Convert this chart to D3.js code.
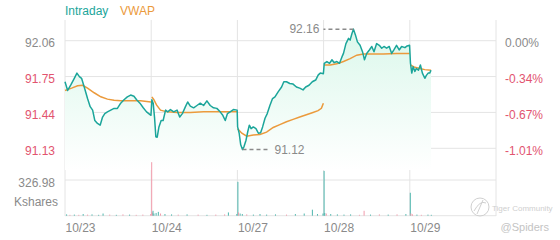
<!DOCTYPE html>
<html>
<head>
<meta charset="utf-8">
<script src="https://cdn.jsdelivr.net/npm/d3@7"></script>
<style>
  body { margin: 0; background: #fff; }
  svg { font-family: "Liberation Sans", Arial, sans-serif; display: block; }
</style>
</head>
<body>
<section></section>
<script>
"use strict";

// days shown on the x axis
const days = ["10/23", "10/24", "10/27", "10/28", "10/29"];
const prevClose = 92.06;
const priceTicks = [92.06, 91.75, 91.44, 91.13];
const volTicks = [326.98];

// intraday price per day: [minute after open, price]
const px1023 = [[0,91.705],[12,91.63],[27,91.68],[42,91.735],[54,91.78],[65,91.75],[75,91.735],[87,91.66],[102,91.56],[114,91.49],[125,91.46],[135,91.37],[147,91.345],[159,91.33],[170,91.40],[180,91.43],[192,91.445],[207,91.46],[222,91.475],[237,91.475],[252,91.52],[267,91.55],[282,91.575],[297,91.59],[312,91.58],[324,91.55],[339,91.52],[354,91.48],[369,91.445],[389,91.415]];
const px1024 = [[3,91.55],[9,91.52],[15,91.40],[21,91.23],[27,91.225],[35,91.315],[45,91.37],[54,91.37],[65,91.46],[75,91.445],[87,91.465],[102,91.445],[117,91.46],[129,91.40],[141,91.43],[155,91.49],[165,91.53],[177,91.495],[192,91.48],[207,91.50],[222,91.52],[237,91.50],[252,91.54],[267,91.50],[282,91.48],[297,91.475],[312,91.445],[324,91.415],[335,91.37],[345,91.43],[357,91.445],[372,91.465],[389,91.46]];
const px1027 = [[1,91.315],[8,91.26],[15,91.16],[23,91.12],[30,91.145],[39,91.20],[47,91.275],[54,91.33],[62,91.30],[72,91.315],[84,91.30],[95,91.26],[105,91.265],[114,91.315],[125,91.39],[135,91.43],[147,91.50],[159,91.56],[170,91.575],[185,91.62],[200,91.66],[210,91.705],[222,91.705],[237,91.69],[252,91.685],[267,91.66],[282,91.65],[297,91.635],[309,91.66],[324,91.675],[339,91.705],[354,91.72],[366,91.765],[375,91.78],[389,91.775]];
const px1028 = [[3,91.865],[15,91.88],[27,91.865],[38,91.895],[48,91.87],[60,91.88],[72,91.865],[83,91.92],[90,91.95],[101,92.035],[113,92.08],[120,92.065],[128,92.12],[135,92.16],[144,92.11],[153,92.05],[165,92.02],[176,91.965],[185,91.895],[195,91.95],[207,91.98],[218,92.01],[228,91.965],[240,92.035],[252,92.02],[263,91.995],[273,92.01],[285,91.995],[297,92.01],[308,91.95],[318,91.98],[330,92.02],[342,91.98],[353,92.01],[368,92.00],[378,92.015],[389,92.02]];
const px1029 = [[3,91.865],[9,91.78],[15,91.835],[23,91.795],[30,91.82],[39,91.805],[48,91.85],[57,91.78],[68,91.735],[75,91.76],[83,91.78],[90,91.78],[96,91.805]];

// VWAP per day
const vw1023 = [[0,91.63],[30,91.65],[57,91.67],[80,91.675],[102,91.65],[132,91.61],[162,91.575],[192,91.555],[222,91.545],[252,91.54],[282,91.54],[312,91.54],[342,91.54],[389,91.53]];
const vw1024 = [[3,91.575],[12,91.55],[24,91.505],[42,91.46],[72,91.445],[117,91.44],[177,91.44],[237,91.445],[297,91.445],[389,91.445]];
const vw1027 = [[1,91.30],[20,91.26],[42,91.235],[72,91.245],[102,91.25],[132,91.27],[162,91.31],[192,91.335],[222,91.36],[252,91.38],[282,91.40],[312,91.42],[342,91.44],[365,91.455],[380,91.475],[389,91.52]];
const vw1028 = [[3,91.85],[30,91.85],[60,91.86],[90,91.88],[120,91.905],[150,91.935],[180,91.945],[225,91.945],[270,91.945],[330,91.95],[389,91.95]];
const vw1029 = [[3,91.85],[23,91.83],[45,91.82],[68,91.81],[96,91.805]];

// volume (Kshares): [minute after open, volume, 1 up / -1 down]
const vol1023 = [[5,12,1],[20,8,-1],[40,10,1],[60,8,-1],[80,15,1],[100,10,-1],[120,12,1],[150,8,1],[170,20,1],[200,10,-1],[230,8,1],[260,12,-1],[290,10,1],[320,8,-1],[350,10,-1],[385,15,-1]];
const vol1024 = [[0,490,-1],[3,30,-1],[6,45,1],[10,20,1],[20,25,1],[30,35,1],[40,20,-1],[60,15,1],[90,12,1],[120,10,-1],[160,12,1],[210,10,-1],[250,8,1],[290,10,-1],[330,12,-1],[347,30,1],[385,15,1]];
const vol1027 = [[0,310,1],[3,30,-1],[10,20,1],[20,15,1],[40,12,-1],[70,10,1],[100,15,1],[130,10,1],[170,12,1],[220,10,-1],[260,15,1],[300,20,1],[337,55,1],[360,15,1],[385,20,1]];
const vol1028 = [[0,410,1],[3,25,1],[10,20,-1],[30,15,1],[60,12,1],[90,10,1],[120,12,1],[160,8,-1],[181,45,-1],[210,10,1],[250,12,-1],[290,10,1],[330,12,-1],[370,15,1]];
const vol1029 = [[0,210,1],[3,20,-1],[10,12,-1],[30,10,1],[50,8,-1],[80,10,1],[95,8,1]];

const priceDays = [px1023, px1024, px1027, px1028, px1029];
const vwapDays = [vw1023, vw1024, vw1027, vw1028, vw1029];
const volDays = [vol1023, vol1024, vol1027, vol1028, vol1029];

const w = 560;
const h = 240;
const left = 65;
const right = 496;
const sessionLen = 390;

const teal = "#1ba59a";
const orange = "#eb9a3c";
const red = "#e2546f";
const gray = "#8a8a8a";
const grid = "#e4e4e4";

const svg = d3.select("section").append("svg").attr("width", w).attr("height", h);

// flatten to session minutes
const toSession = (arr, i) => arr.map((d) => ({ t: i * sessionLen + d[0], v: d[1], dir: d[2] }));
const price = priceDays.flatMap(toSession);
const vwap = vwapDays.map(toSession);
const volume = volDays.flatMap(toSession);

const xScale = d3.scaleLinear().domain([0, days.length * sessionLen]).range([left, right]);
const yScale = d3.scaleLinear().domain([91.13, 92.06]).range([148.3, 40.7]);
const vScale = d3.scaleLinear().domain([0, 326.98]).range([215.7, 180]);

// gradient for the area
const defs = svg.append("defs");
const grad = defs.append("linearGradient").attr("id", "fillGrad")
  .attr("gradientUnits", "userSpaceOnUse").attr("x1", 0).attr("x2", 0).attr("y1", 20).attr("y2", 170);
grad.append("stop").attr("offset", "0%").attr("stop-color", "#d9f7ea");
grad.append("stop").attr("offset", "100%").attr("stop-color", "#ffffff");

// grid
const gridG = svg.append("g");
gridG.selectAll("line.v")
  .data(d3.range(days.length + 1))
  .enter().append("line")
  .attr("x1", (d) => xScale(d * sessionLen)).attr("x2", (d) => xScale(d * sessionLen))
  .attr("y1", 20).attr("y2", 216)
  .attr("stroke", grid);
gridG.selectAll("line.h")
  .data(priceTicks.map(yScale).concat(volTicks.map(vScale), [vScale(0)]))
  .enter().append("line")
  .attr("x1", left).attr("x2", right)
  .attr("y1", (d) => d).attr("y2", (d) => d)
  .attr("stroke", grid);

// area + lines
svg.append("path")
  .datum(price)
  .attr("fill", "url(#fillGrad)")
  .attr("d", d3.area().x((d) => xScale(d.t)).y0(170).y1((d) => yScale(d.v)));

svg.selectAll("path.vwap")
  .data(vwap)
  .enter().append("path")
  .attr("fill", "none")
  .attr("stroke", orange)
  .attr("stroke-width", 1.5)
  .attr("d", d3.line().x((d) => xScale(d.t)).y((d) => yScale(d.v)));

svg.append("path")
  .datum(price)
  .attr("fill", "none")
  .attr("stroke", teal)
  .attr("stroke-width", 1.5)
  .attr("stroke-linejoin", "round")
  .attr("d", d3.line().x((d) => xScale(d.t)).y((d) => yScale(d.v)));

// volume bars
svg.append("g").selectAll("line")
  .data(volume)
  .enter().append("line")
  .attr("x1", (d) => xScale(d.t) + 0.5).attr("x2", (d) => xScale(d.t) + 0.5)
  .attr("y1", vScale(0)).attr("y2", (d) => vScale(d.v))
  .attr("stroke", (d) => (d.dir < 0 ? "#f29aab" : "#4db6ad"))
  .attr("stroke-width", 1);

// max / min annotations
const maxP = d3.greatest(price, (d) => d.v);
const minP = d3.least(price, (d) => d.v);
const ann = svg.append("g").attr("font-size", 12).attr("fill", gray);
ann.append("line")
  .attr("x1", xScale(maxP.t)).attr("x2", xScale(maxP.t) - 30)
  .attr("y1", yScale(maxP.v)).attr("y2", yScale(maxP.v))
  .attr("stroke", gray).attr("stroke-width", 1.5).attr("stroke-dasharray", "4,3");
ann.append("text")
  .attr("x", xScale(maxP.t) - 34).attr("y", yScale(maxP.v)).attr("dy", "0.35em")
  .attr("text-anchor", "end").text(maxP.v.toFixed(2));
ann.append("line")
  .attr("x1", xScale(minP.t)).attr("x2", xScale(minP.t) + 28)
  .attr("y1", yScale(minP.v)).attr("y2", yScale(minP.v))
  .attr("stroke", gray).attr("stroke-width", 1.5).attr("stroke-dasharray", "4,3");
ann.append("text")
  .attr("x", xScale(minP.t) + 32).attr("y", yScale(minP.v)).attr("dy", "0.35em")
  .text(minP.v.toFixed(2));

// axes
const styleAxis = (g) => {
  g.select(".domain").remove();
  g.selectAll(".tick line").remove();
  g.selectAll("text").attr("font-size", 12).attr("font-family", "Liberation Sans, Arial, sans-serif");
};

svg.append("g")
  .attr("transform", `translate(${left - 7}, 2)`)
  .call(d3.axisLeft(yScale).tickValues(priceTicks).tickFormat(d3.format(".2f")).tickSize(0))
  .call(styleAxis)
  .call((g) => g.selectAll("text").attr("fill", (d) => (d < prevClose ? red : gray)));

svg.append("g")
  .attr("transform", `translate(${right + 6}, 2)`)
  .call(d3.axisRight(yScale).tickValues(priceTicks)
    .tickFormat((d) => `${((d - prevClose) / prevClose * 100).toFixed(2)}%`).tickSize(0))
  .call(styleAxis)
  .call((g) => g.selectAll("text").attr("fill", (d) => (d < prevClose ? red : gray)));

svg.append("g")
  .attr("transform", `translate(${left - 7}, 3)`)
  .call(d3.axisLeft(vScale).tickValues(volTicks).tickFormat(d3.format(".2f")).tickSize(0))
  .call(styleAxis)
  .call((g) => g.selectAll("text").attr("fill", gray));

svg.append("text")
  .attr("x", left - 7).attr("y", 206)
  .attr("text-anchor", "end").attr("font-size", 12).attr("fill", gray)
  .text("Kshares");

svg.append("g")
  .attr("transform", `translate(0, 220)`)
  .call(d3.axisBottom(xScale).tickValues(days.map((d, i) => i * sessionLen))
    .tickFormat((d, i) => days[i]).tickSize(0))
  .call(styleAxis)
  .call((g) => g.selectAll("text").attr("fill", gray).attr("text-anchor", "start"));

// legend
svg.append("text").attr("x", 65).attr("y", 15).attr("font-size", 12).attr("fill", teal).text("Intraday");
svg.append("text").attr("x", 120).attr("y", 15).attr("font-size", 12).attr("fill", orange).text("VWAP");

// watermark
const wm = svg.append("g").attr("fill", "none").attr("stroke", "#d0d0d0");
wm.append("circle").attr("cx", 480).attr("cy", 207).attr("r", 9);
wm.append("path").attr("d", "M474,211 Q480,200 486,203 M477,214 L483,200");
svg.append("text").attr("x", 492).attr("y", 211).attr("font-size", 8).attr("fill", "#cfcfcf").text("Tiger Community");
svg.append("text").attr("x", 549).attr("y", 231).attr("text-anchor", "end").attr("font-size", 11).attr("fill", "#c4c4c4").text("@Spiders");
</script>
</body>
</html>
